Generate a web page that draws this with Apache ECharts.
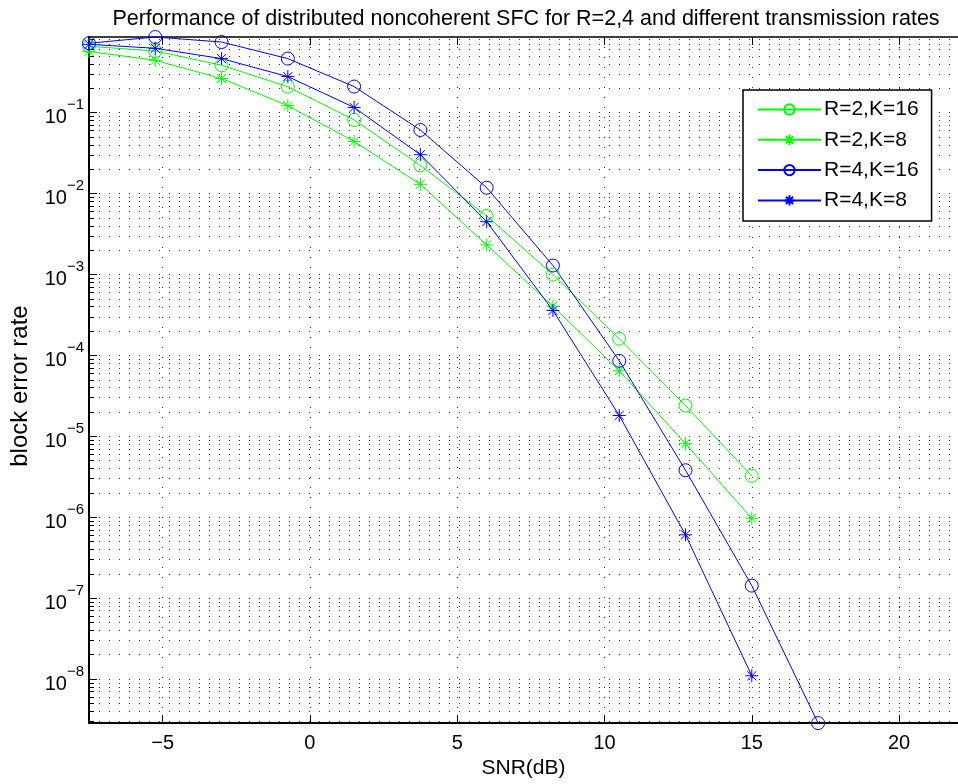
<!DOCTYPE html>
<html>
<head>
<meta charset="utf-8">
<script src="https://cdn.jsdelivr.net/npm/echarts@6/dist/echarts.min.js"></script>
<style>
html,body{margin:0;padding:0;background:#fff;}
#c{width:958px;height:784px;}
</style>
</head>
<body>
<div id="c"></div>
<script>
// ---- data ----
const snr = [-7.5, -5.25, -3, -0.75, 1.5, 3.75, 6, 8.25, 10.5, 12.75, 15, 17.25];
const r2k16 = [0.66, 0.578, 0.385, 0.209, 0.0814, 0.0223, 0.0053, 9.96e-4, 1.61e-4, 2.40e-5, 3.25e-6];
const r2k8  = [0.57, 0.443, 0.264, 0.122, 0.0441, 0.0130, 0.00232, 4.06e-4, 6.45e-5, 8.11e-6, 9.73e-7];
const r4k16 = [0.72, 0.86, 0.745, 0.465, 0.21, 0.061, 0.0118, 1.29e-3, 8.57e-5, 3.81e-6, 1.43e-7, 2.86e-9];
const r4k8  = [0.698, 0.624, 0.465, 0.279, 0.116, 0.0302, 0.00449, 3.59e-4, 1.81e-5, 6.07e-7, 1.10e-8];
const seriesNames = ['R=2,K=16', 'R=2,K=8', 'R=4,K=16', 'R=4,K=8'];
const xTicks = [-5, 0, 5, 10, 15, 20];
const yDecades = [-8, -7, -6, -5, -4, -3, -2, -1];

// ---- build ----
const FONT = 'Liberation Sans, Arial, Helvetica, sans-serif';
const GREEN = '#00ff00', BLUE = '#0000ff';
const STAR = 'path://M10 0 L10 20 M0 10 L20 10 M3 3 L17 17 M3 17 L17 3';
const allVals = [].concat(r2k16, r2k8, r4k16, r4k8);
const yMin = Math.log10(Math.min.apply(null, allVals));
const yMax = Math.log10(Math.max.apply(null, allVals));
const yMinor = [];
for (let n = -9; n <= 0; n++) for (let k = 2; k <= 9; k++) {
  const v = Math.log10(k) + n;
  if (v > yMin && v < yMax) yMinor.push(v);
}
const dots = {color: '#333', width: 1, type: [1, 9]};

function mk(name, vals, color, symbol) {
  return {
    name: name, type: 'line',
    data: vals.map((v, i) => [snr[i], Math.log10(v)]),
    symbol: symbol, symbolSize: 13,
    showSymbol: true, clip: false,
    lineStyle: {color: color, width: 1},
    itemStyle: {color: 'rgba(0,0,0,0)', borderColor: color, borderWidth: 1},
    emphasis: {disabled: true},
    animation: false
  };
}

const chart = echarts.init(document.getElementById('c'), null, {renderer: 'canvas'});
const gridLeft = 87, gridTop = 37, gridH = 689, gridW = 885;
chart.setOption({
  backgroundColor: '#fff',
  animation: false,
  title: {
    text: 'Performance of distributed noncoherent SFC for R=2,4 and different transmission rates',
    left: 521, top: 3, textAlign: 'center',
    textStyle: {fontFamily: FONT, fontSize: 21.5, fontWeight: 'normal', color: '#000'}
  },
  grid: {left: gridLeft, top: gridTop, width: gridW, height: gridH},
  legend: {
    orient: 'vertical', left: 743, top: 90,
    padding: [9, 13, 10, 14], itemGap: 9.3, itemWidth: 63, itemHeight: 13,
    borderColor: '#000', borderWidth: 1.5, backgroundColor: '#fff',
    textStyle: {fontFamily: FONT, fontSize: 21, color: '#000', padding: [0, 0, 0, -2]},
    data: seriesNames
  },
  xAxis: [{
    type: 'value', min: -7.5, max: 22, position: 'bottom',
    name: 'SNR(dB)', nameLocation: 'middle', nameGap: 33,
    nameTextStyle: {fontFamily: FONT, fontSize: 21, color: '#000'},
    axisLine: {onZero: false, lineStyle: {color: '#000', width: 2}},
    axisTick: {inside: true, length: 8, customValues: xTicks, lineStyle: {color: '#000', width: 1}},
    axisLabel: {customValues: xTicks, margin: 10, fontFamily: FONT, fontSize: 20, color: '#000',
      formatter: v => (v < 0 ? '\u2212' + Math.abs(v) : String(v))},
    splitLine: {show: true, lineStyle: dots}
  }, {
    type: 'value', min: -7.5, max: 22, position: 'top',
    axisLine: {onZero: false, lineStyle: {color: '#000', width: 1.5}},
    axisTick: {inside: true, length: 8, customValues: xTicks, lineStyle: {color: '#000', width: 1}},
    axisLabel: {show: false},
    splitLine: {show: false}
  }],
  yAxis: [{
    type: 'value', min: yMin, max: yMax, position: 'left',
    name: 'block error rate', nameLocation: 'middle', nameGap: 57, nameRotate: 90,
    nameTextStyle: {fontFamily: FONT, fontSize: 24, color: '#000', padding: [0, 12, 0, 0]},
    axisLine: {onZero: false, lineStyle: {color: '#000', width: 2}},
    axisTick: {inside: true, length: 8, customValues: yDecades, lineStyle: {color: '#000', width: 1}},
    axisLabel: {customValues: yDecades, margin: 5, color: '#000',
      formatter: v => '{b|10}{s|' + (v < 0 ? '\u2212' : '') + Math.abs(Math.round(v)) + '}',
      rich: {
        b: {fontFamily: FONT, fontSize: 20, color: '#000', lineHeight: 30, verticalAlign: 'bottom'},
        s: {fontFamily: FONT, fontSize: 15, color: '#000', lineHeight: 30, verticalAlign: 'top'}
      }
    },
    splitLine: {show: true, lineStyle: dots}
  }, {
    type: 'value', min: yMin, max: yMax, position: 'left',
    axisLine: {show: false, onZero: false},
    axisTick: {inside: true, length: 5, customValues: yMinor, lineStyle: {color: '#000', width: 1}},
    axisLabel: {show: false},
    splitLine: {show: true, lineStyle: dots}
  }],
  series: [
    mk(seriesNames[0], r2k16, GREEN, 'circle'),
    mk(seriesNames[1], r2k8, GREEN, STAR),
    mk(seriesNames[2], r4k16, BLUE, 'circle'),
    mk(seriesNames[3], r4k8, BLUE, STAR)
  ]
});
</script>
</body>
</html>
